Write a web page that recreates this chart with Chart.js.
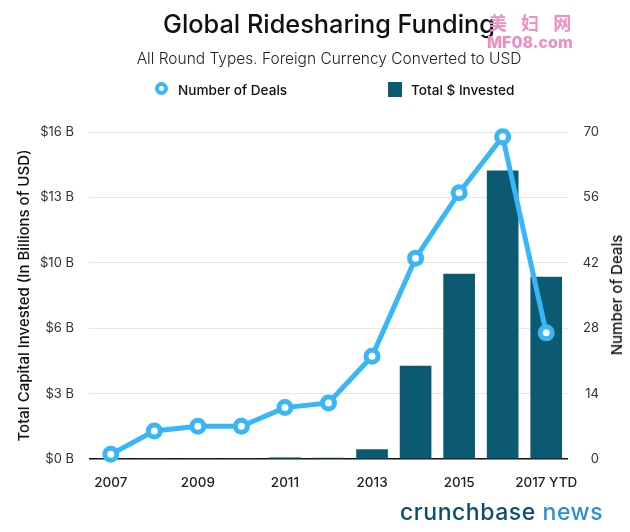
<!DOCTYPE html>
<html>
<head>
<meta charset="utf-8">
<script src="https://cdn.jsdelivr.net/npm/chart.js@4"></script>
<style>
    html, body { margin: 0; padding: 0; background: #fff; }
    #wrap { position: relative; width: 630px; height: 532px; overflow: hidden; font-family: Inter, sans-serif; color: #111; }
    #wrap canvas { position: absolute; left: 0; top: 0; }
    .txt { position: absolute; white-space: nowrap; }
    #titulo { left: 0; width: 658px; top: 9px; text-align: center; font-size: 25.3px; font-weight: 500; line-height: 30px; }
    #subtitulo { left: 0; width: 658px; top: 49px; text-align: center; font-size: 15.5px; font-weight: 300; line-height: 20px; color: #222; }
    .leyenda { top: 81px; font-size: 13.6px; font-weight: 500; line-height: 18px; }
    #marcaLinea { position: absolute; left: 155px; top: 82px; width: 5px; height: 5px; border: 4px solid #38b6f5; border-radius: 50%; }
    #marcaBarra { position: absolute; left: 388px; top: 82px; width: 14px; height: 15px; background: #0b5a72; }
    #logo { left: 400px; top: 496px; font-size: 23px; font-weight: 500; line-height: 32px; color: #0f4c71; letter-spacing: 0.55px; }
    #logo span { color: #2a90d2; }
    #ejeDerecho { left: 617px; top: 295px; transform: translate(-50%, -50%) rotate(-90deg); font-size: 15px; font-weight: 500; line-height: 18px; }
    #marca1 { left: 489px; top: 11px; font-family: "Noto Sans CJK SC"; font-size: 18px; font-weight: 700; line-height: 22px; color: #ee8fc0; letter-spacing: 5px; }
    #marca2 { left: 487px; top: 33px; font-size: 16px; font-weight: 800; line-height: 18px; color: #ee8fc0; }
</style>
</head>
<body>
<div id="wrap">
    <canvas id="grafica" width="630" height="532"></canvas>
    <div class="txt" id="titulo">Global Ridesharing Funding</div>
    <div class="txt" id="subtitulo">All Round Types. Foreign Currency Converted to USD</div>
    <div id="marcaLinea"></div>
    <div class="txt leyenda" style="left:178px">Number of Deals</div>
    <div id="marcaBarra"></div>
    <div class="txt leyenda" style="left:411px">Total $ Invested</div>
    <div class="txt" id="ejeDerecho">Number of Deals</div>
    <div class="txt" id="logo">crunchbase <span>news</span></div>
    <div class="txt" id="marca1">美 妇 网</div>
    <div class="txt" id="marca2">MF08.com</div>
</div>
<script>
const anios = ['2007', '2008', '2009', '2010', '2011', '2012', '2013', '2014', '2015', '2016', '2017 YTD'];
const invertido = [0, 0, 0, 0, 0.06, 0.04, 0.46, 4.55, 9.05, 14.1, 8.9];
const tratos = [1, 6, 7, 7, 11, 12, 22, 43, 57, 69, 27];
const ticksDolares = ['$0 B', '$3 B', '$6 B', '$10 B', '$13 B', '$16 B'];

const azul = '#38b6f5';
const fuenteTicks = { family: 'Inter', size: 13, weight: '400' };
const fuenteEjes = { family: 'Inter', size: 15, weight: '500' };

new Chart(document.getElementById('grafica').getContext('2d'), {
    type: 'bar',
    data: {
        labels: anios,
        datasets: [{
            type: 'line',
            label: 'Number of Deals',
            data: tratos,
            yAxisID: 'y1',
            order: 1,
            clip: false,
            borderColor: azul,
            borderWidth: 5,
            tension: 0,
            pointRadius: 6,
            pointBorderWidth: 5,
            pointBackgroundColor: '#fff',
            pointBorderColor: azul
        }, {
            label: 'Total $ Invested',
            data: invertido,
            yAxisID: 'y',
            order: 2,
            backgroundColor: '#0b5a72',
            barThickness: 31
        }]
    },
    options: {
        responsive: false,
        animation: false,
        layout: { padding: { top: 132, right: 31 } },
        plugins: { legend: { display: false }, tooltip: { enabled: false } },
        scales: {
            x: {
                afterFit: function(eje) { eje.height = 73; },
                grid: { display: false },
                border: { display: false },
                ticks: {
                    autoSkip: false,
                    maxRotation: 0,
                    padding: 8,
                    color: '#222',
                    font: { family: 'Inter', size: 13.5, weight: '500' },
                    callback: function(valor, i) { return i % 2 == 0 ? anios[i] : ''; }
                }
            },
            y: {
                position: 'left',
                min: 0,
                max: 16,
                afterFit: function(eje) { eje.width = 89; },
                afterBuildTicks: function(eje) {
                    eje.ticks = ticksDolares.map(function(t, i) { return { value: i * 3.2 }; });
                },
                grid: {
                    drawTicks: false,
                    lineWidth: function(c) { return c.tick.value == 0 ? 1.5 : 1; },
                    color: function(c) { return c.tick.value == 0 ? '#111' : '#e8e8e8'; }
                },
                border: { display: false },
                ticks: {
                    padding: 15,
                    color: '#333',
                    font: fuenteTicks,
                    callback: function(valor, i) { return ticksDolares[i]; }
                },
                title: { display: true, text: 'Total Capital Invested (In Billions of USD)', color: '#111', font: fuenteEjes, padding: { top: 15, bottom: 0 } }
            },
            y1: {
                position: 'right',
                min: 0,
                max: 70,
                afterFit: function(eje) { eje.width = 31; },
                ticks: { stepSize: 14, padding: 15, crossAlign: 'far', color: '#333', font: fuenteTicks },
                grid: { display: false },
                border: { display: false }
            }
        }
    }
});
</script>
</body>
</html>
